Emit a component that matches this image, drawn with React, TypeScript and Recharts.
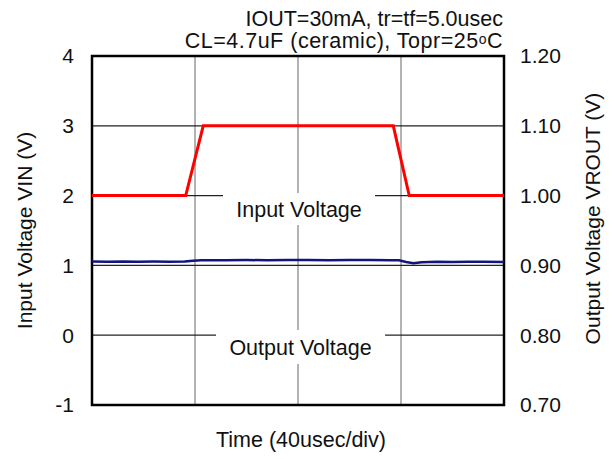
import React from "react"
import { LineChart, Line, XAxis, YAxis, CartesianGrid, ReferenceArea } from "recharts"

// time axis in divisions (40usec/div)
const divTicks = [0, 1, 2, 3, 4]
const vinTicks = [-1, 0, 1, 2, 3, 4]
const voutTicks = [0.7, 0.8, 0.9, 1.0, 1.1, 1.2]

// input step, tr = tf = 5.0usec
const vinTime = [0, 0.91, 1.08, 2.925, 3.08, 4]
const vinVolts = [2, 2, 3, 3, 2, 2]

// output trace
const voutTime = [0, 0.15, 0.3, 0.45, 0.6, 0.75, 0.9, 0.98, 1.06, 1.3, 1.5, 1.7, 1.9, 2.1, 2.3, 2.5, 2.7, 2.9, 2.98, 3.05, 3.12, 3.2, 3.35, 3.5, 3.65, 3.8, 4.0]
const voutVolts = [0.9055, 0.9053, 0.9056, 0.9054, 0.9055, 0.9054, 0.9057, 0.9068, 0.9075, 0.9074, 0.9076, 0.9075, 0.9077, 0.9076, 0.9075, 0.9077, 0.9076, 0.9075, 0.9074, 0.9048, 0.9030, 0.9046, 0.9052, 0.9050, 0.9052, 0.9051, 0.9050]

const vinData = vinTime.map((t, i) => ({ t, v: vinVolts[i] }))
const voutData = voutTime.map((t, i) => ({ t, v: voutVolts[i] }))

const font = "'Liberation Sans', Arial, sans-serif"
const tickStyle = { fill: "#111", fontSize: 21 }

export default function App() {
  return (
    <div style={{ position: "absolute", left: 0, top: 0, width: 616, height: 459, fontFamily: font, background: "#fff" }}>
      <div style={{ position: "absolute", right: 113, top: 8, textAlign: "right", fontSize: 21.5, lineHeight: "22px", color: "#111", whiteSpace: "nowrap" }}>
        <div>IOUT=30mA, tr=tf=5.0usec</div>
        <div style={{ letterSpacing: "0.5px" }}>
          CL=4.7uF (ceramic), Topr=25
          <span style={{ display: "inline-block", fontSize: 14, lineHeight: "12px", position: "relative", top: -4 }}>o</span>C
        </div>
      </div>
      <LineChart width={616} height={459} data={vinData} margin={{ top: 56, right: 0, bottom: 0, left: 0 }}>
        <CartesianGrid yAxisId="left" horizontal={false} stroke="#666" strokeWidth={1} />
        <CartesianGrid yAxisId="left" vertical={false} stroke="#222" strokeWidth={1.2} />
        <XAxis
          type="number"
          dataKey="t"
          domain={[0, 4]}
          ticks={divTicks}
          tick={() => <g />}
          tickLine={false}
          axisLine={false}
          height={54}
          label={{
            content: (p: any) => (
              <text x={p.viewBox.x + p.viewBox.width / 2 + 3} y={p.viewBox.y + 42} textAnchor="middle" fontSize={21.5} fill="#111">
                Time (40usec/div)
              </text>
            ),
          }}
        />
        <YAxis
          yAxisId="left"
          domain={[-1, 4]}
          ticks={vinTicks}
          width={92}
          tickSize={0}
          tickMargin={18}
          tickLine={false}
          axisLine={false}
          tick={tickStyle}
          label={{
            content: (p: any) => {
              const x = p.viewBox.x + 24
              const y = p.viewBox.y + p.viewBox.height / 2
              return (
                <text x={x} y={y} transform={`rotate(-90 ${x} ${y})`} textAnchor="middle" dominantBaseline="central" fontSize={21} fill="#111">
                  Input Voltage VIN (V)
                </text>
              )
            },
          }}
        />
        <YAxis
          yAxisId="right"
          orientation="right"
          domain={[0.7, 1.2]}
          ticks={voutTicks}
          tickFormatter={(v: number) => v.toFixed(2)}
          width={112}
          tickSize={0}
          tickMargin={16}
          tickLine={false}
          axisLine={false}
          tick={tickStyle}
          label={{
            content: (p: any) => {
              const x = p.viewBox.x + 88
              const y = p.viewBox.y + p.viewBox.height / 2 - 12
              return (
                <text x={x} y={y} transform={`rotate(-90 ${x} ${y})`} textAnchor="middle" dominantBaseline="central" fontSize={21} fill="#111">
                  Output Voltage VROUT (V)
                </text>
              )
            },
          }}
        />
        <ReferenceArea
          yAxisId="left"
          x1={1.272}
          x2={2.748}
          y1={1.579}
          y2={2.037}
          fill="#fff"
          fillOpacity={1}
          stroke="none"
          label={{ value: "Input Voltage", position: "center", fill: "#111", fontSize: 21.5 }}
        />
        <ReferenceArea
          yAxisId="left"
          x1={1.204}
          x2={2.845}
          y1={-0.413}
          y2={0.0745}
          fill="#fff"
          fillOpacity={1}
          stroke="none"
          label={{ value: "Output Voltage", position: "center", fill: "#111", fontSize: 21.5 }}
        />
        <Line yAxisId="left" data={vinData} dataKey="v" stroke="#ff0000" strokeWidth={3} dot={false} isAnimationActive={false} type="linear" />
        <Line yAxisId="right" data={voutData} dataKey="v" stroke="#14147f" strokeWidth={2.5} dot={false} isAnimationActive={false} type="linear" />
        <ReferenceArea yAxisId="left" x1={0} x2={4} y1={-1} y2={4} fill="none" stroke="#000" strokeWidth={2.5} />
      </LineChart>
    </div>
  )
}
